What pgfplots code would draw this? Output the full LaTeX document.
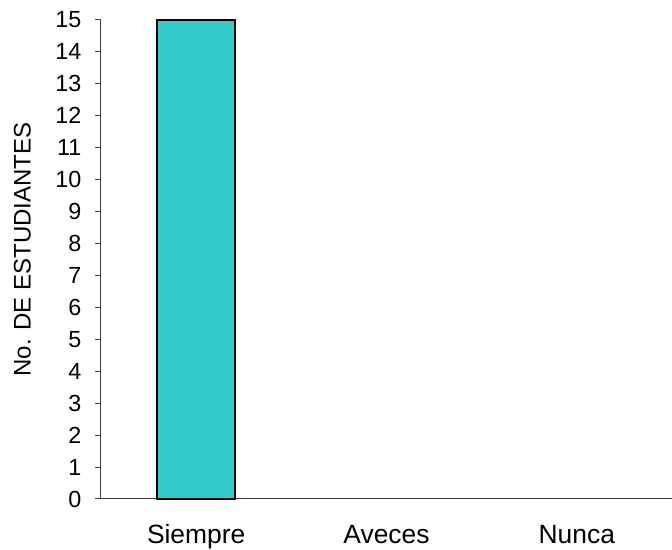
\documentclass[border=0pt]{standalone}
\usepackage{pgfplots}
\pgfplotsset{compat=1.18}
\usepackage{fontspec}
\setmainfont{Liberation Sans}
\definecolor{barc}{HTML}{33CCCC}
\begin{document}
\begin{tikzpicture}
\useasboundingbox (-75.75pt,-38.25pt) rectangle (428.25pt,374.25pt);
\begin{axis}[
  at={(0,0)}, anchor=south west,
  scale only axis, width=428.25pt, height=359.25pt,
  xmin=-0.5, xmax=2.5, ymin=0, ymax=15,
  axis x line*=bottom, axis y line*=left,
  axis line style={black!75, line width=0.75pt},
  every tick/.style={black!75, line width=0.75pt},
  tick align=outside, major tick length=4.5pt,
  ytick={0,...,15},
  xtick={0,1,2},
  xticklabels={Siempre,Aveces,Nunca},
  x tick style={draw=none},
  extra x ticks={-0.5,0.5,1.5},
  extra x tick labels={},
  extra x tick style={x tick style={black!75, line width=0.75pt}},
  /pgf/number format/assume math mode=true,
  yticklabel style={font=\fontsize{17.5}{20}\selectfont, anchor=east, inner sep=0pt, xshift=-10pt},
  xticklabel style={font=\fontsize{19.8}{22}\selectfont, anchor=base, inner sep=0pt, yshift=-29pt},
  ylabel={No. DE ESTUDIANTES},
  every axis y label/.style={at={(axis description cs:0,0.5)}, xshift=-59pt, yshift=7.5pt, rotate=90, anchor=center, font=\fontsize{18}{20}\selectfont},
  clip=false,
]
\addplot[ybar, bar width=58.5pt, fill=barc, draw=black, line width=1.5pt, restrict y to domain=0.001:100]
  coordinates {(0,15) (1,0) (2,0)};
\end{axis}
\end{tikzpicture}
\end{document}
